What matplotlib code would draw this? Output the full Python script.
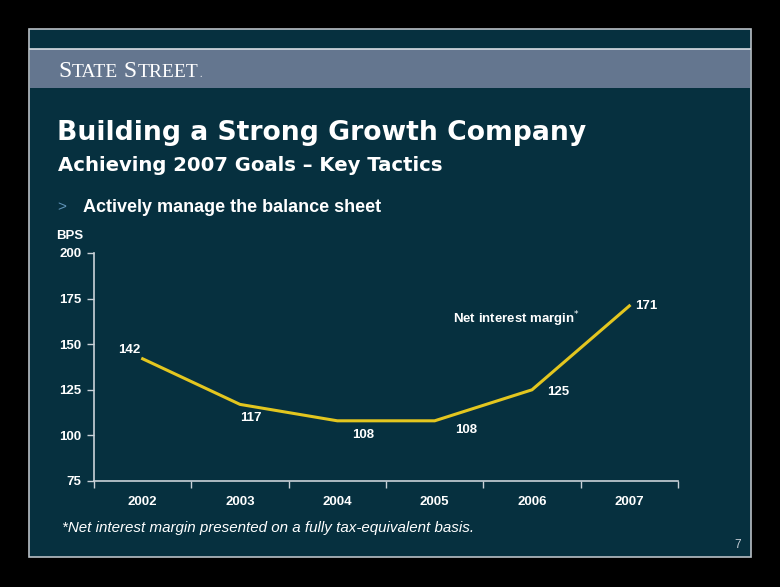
import matplotlib
matplotlib.use('Agg')
import matplotlib.pyplot as plt
from matplotlib.patches import Rectangle

years = ['2002', '2003', '2004', '2005', '2006', '2007']
nim_bps = [142, 117, 108, 108, 125, 171]
yticks = [75, 100, 125, 150, 175, 200]

# label offsets in pixels (dx, dy) from each point
label_offsets = [(-13, 9), (11, -14), (26, -14), (31, -9), (26, -2), (17, 0)]

W, H = 780, 587
BG = '#06303f'
BAND = '#64768f'
LINE = '#e3c61f'
TXT = 'white'
AXC = '#c9d1d8'

plt.rcParams['font.family'] = ['Liberation Sans', 'DejaVu Sans']

fig = plt.figure(figsize=(W / 100, H / 100), dpi=100, facecolor='black')


def fx(x):
    return x / W


def fy(y):
    return 1 - y / H


# slide panel and header band
fig.patches.append(Rectangle((fx(29), fy(557)), fx(751) - fx(29), fy(29) - fy(557),
                             transform=fig.transFigure, facecolor=BG,
                             edgecolor='#b8c0c6', linewidth=1.2, zorder=0))
fig.patches.append(Rectangle((fx(30), fy(88)), fx(750) - fx(30), fy(49) - fy(88),
                             transform=fig.transFigure, facecolor=BAND,
                             edgecolor='none', zorder=1))
fig.lines.append(plt.Line2D([fx(30), fx(750)], [fy(49), fy(49)],
                            transform=fig.transFigure, color='#d8dde3', lw=1.2))

# logo in small caps, pieces placed side by side
renderer = fig.canvas.get_renderer()
x = 58
for piece, size in [('S', 17), ('TATE', 14), (' S', 17), ('TREET', 14), ('.', 7)]:
    t = fig.text(fx(x), fy(77), piece, family='Liberation Serif', fontsize=size,
                 color=TXT, va='baseline', ha='left')
    x += t.get_window_extent(renderer).width + 0.5

fig.text(fx(57), fy(140), 'Building a Strong Growth Company', family='DejaVu Sans',
         fontsize=19.2, fontweight='bold', color=TXT, va='baseline')
fig.text(fx(58), fy(171), 'Achieving 2007 Goals \u2013 Key Tactics', family='DejaVu Sans',
         fontsize=14.1, fontweight='bold', color=TXT, va='baseline')
fig.text(fx(57), fy(211), '>', fontsize=11, color='#5f93b8', va='baseline')
fig.text(fx(83), fy(212), 'Actively manage the balance sheet', fontsize=13,
         fontweight='bold', color=TXT, va='baseline')
fig.text(fx(56), fy(236), 'BPS', fontsize=9.5, fontweight='bold', color=TXT, va='center')
fig.text(fx(62), fy(528), '*Net interest margin presented on a fully tax-equivalent basis.',
         fontsize=10.9, style='italic', color=TXT, va='center')
fig.text(fx(738), fy(545), '7', fontsize=8.5, color='#c8d0d8', va='center', ha='center')

ax = fig.add_axes([fx(94), fy(481), fx(678) - fx(94), fy(253) - fy(481)], zorder=5)
ax.set_facecolor('none')
xs = list(range(len(years)))
ax.plot(xs, nim_bps, color=LINE, lw=2.2, solid_joinstyle='miter')
ax.set_xlim(-0.5, len(years) - 0.5)
ax.set_ylim(75, 200)
ax.set_yticks(yticks)
ax.set_yticklabels([str(t) for t in yticks], fontsize=9.5, fontweight='bold', color=TXT)
ax.set_xticks(xs)
ax.set_xticklabels(years, fontsize=9.5, fontweight='bold', color=TXT)
ax.tick_params(axis='x', length=0, pad=11)
ax.tick_params(axis='y', length=5, color=AXC, width=1, pad=4)
ax.set_xticks([x - 0.5 for x in xs] + [len(years) - 0.5], minor=True)
ax.tick_params(axis='x', which='minor', length=5, color=AXC, width=1, direction='out')
for s in ['top', 'right']:
    ax.spines[s].set_visible(False)
for s in ['left', 'bottom']:
    ax.spines[s].set_color(AXC)
    ax.spines[s].set_linewidth(1.2)

for x, v, (dx, dy) in zip(xs, nim_bps, label_offsets):
    ax.annotate(str(v), (x, v), xytext=(dx * 0.72, dy * 0.72), textcoords='offset points',
                ha='center', va='center', fontsize=9.5, fontweight='bold', color=TXT)

ax.annotate('Net interest margin$^{*}$', (4, 125), xytext=(-15 * 0.72, 71 * 0.72),
            textcoords='offset points', ha='center', va='center',
            fontsize=9.5, fontweight='bold', color=TXT)

fig.savefig('out.png', dpi=100, facecolor='black')
